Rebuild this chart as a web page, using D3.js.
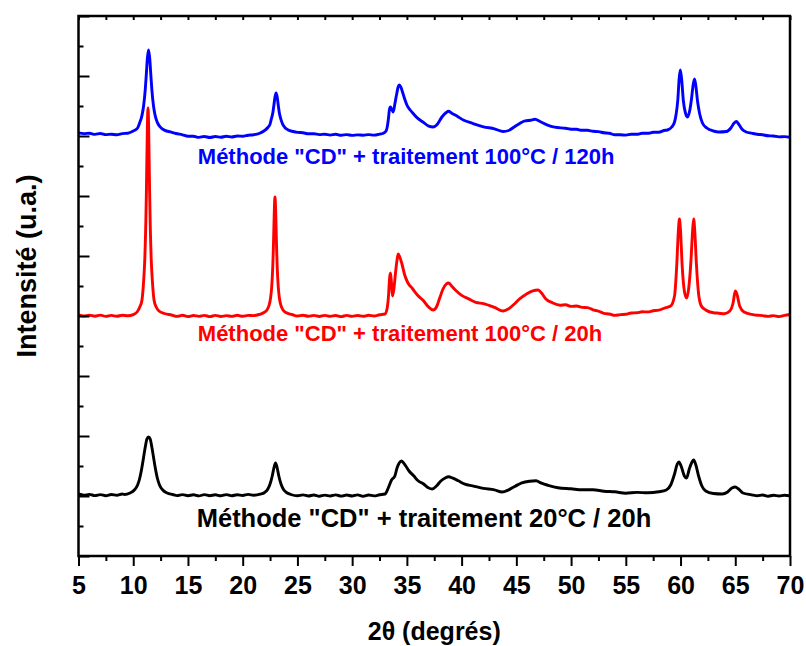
<!DOCTYPE html>
<html><head><meta charset="utf-8">
<script src="https://cdn.jsdelivr.net/npm/d3@7/dist/d3.min.js"></script>
<style>
body{margin:0;background:#fff}
svg{display:block}
text{font-family:"Liberation Sans",Arial,sans-serif;font-weight:bold}
</style>
</head><body>
<svg id="chart" width="806" height="646"></svg>
<script>
// ---------- data ----------
const xTickValues = [5,10,15,20,25,30,35,40,45,50,55,60,65,70];
const xMinorTickValues = [7.5,12.5,17.5,22.5,27.5,32.5,37.5,42.5,47.5,52.5,57.5,62.5,67.5];
const yTickValues = [0,600,1200,1800,2400,3000,3600,4200,4800,5400];
const yMinorTickValues = [300,900,1500,2100,2700,3300,3900,4500,5100];

const seriesLabels = ['Méthode "CD" + traitement 20°C / 20h','Méthode "CD" + traitement 100°C / 20h','Méthode "CD" + traitement 100°C / 120h'];
const seriesColors = ['#000000','#ff0000','#0000ff'];
const seriesOffsets = [0,1800,3600];

// [2theta, intensity (a.u.)]
const black20C20h = [
[5,620],[5.5,608],[6,616],[6.5,604],[7,614],[7.5,603],[8,615],[8.5,608],[9,620],[9.2,615],[9.7,630],[10.1,660],[10.4,710],[10.6,780],[10.8,890],[10.95,990],[11.1,1090],[11.25,1170],[11.4,1190],[11.55,1170],[11.7,1090],[11.85,990],[12.0,890],[12.2,780],[12.4,710],[12.7,660],[13.1,630],[13.6,615],
[14,604],[14.5,614],[15,603],[15.5,612],[16,601],[16.5,614],[17,603],[17.5,612],[18,602],[18.5,614],[19,602],[19.5,613],[20,605],[20.5,616],[21,608],
[21.6,618],[22.0,635],[22.3,670],[22.5,720],[22.7,800],[22.85,880],[23.0,930],[23.15,880],[23.3,800],[23.5,720],[23.7,670],[24.0,635],[24.4,615],
[25,602],[25.5,611],[26,600],[26.5,610],[27,598],[27.5,609],[28,600],[28.5,611],[29,599],[29.5,610],[30,600],[30.5,611],[31,598],[31.5,610],[32,601],
[32.5,612],[33.0,620],[33.3,680],[33.6,760],[33.9,800],[34.1,880],[34.3,930],[34.5,950],[34.7,930],[34.9,900],[35.2,850],[35.6,805],[36.0,755],[36.5,722],[37.0,680],[37.3,670],[37.7,700],[38.1,750],[38.5,780],[38.8,792],[39.2,778],[39.7,752],[40.3,718],[41,702],[42,676],[43,662],[43.7,640],[44.3,662],[44.9,698],[45.5,732],[46.2,748],[46.8,752],[47.3,728],[47.9,707],[48.8,683],[50,672],[51,662],[52,662],[53,648],[54,642],[55,628],[56,636],[57,632],[58,642],
[58.7,660],[59.1,710],[59.45,820],[59.7,920],[59.85,940],[60.05,900],[60.35,800],[60.55,780],[60.8,870],[61.05,940],[61.2,960],[61.4,910],[61.65,800],[61.95,700],[62.3,650],[63,625],[63.8,620],[64.3,640],[64.7,680],[65.0,690],[65.3,670],[65.7,630],[66.5,612],[67,602],[67.5,610],[68,598],[68.5,607],[69,600],[69.5,608],[70,603]
];

const red100C20h = [
[5,612],[5.5,600],[6,608],[6.5,598],[7,609],[7.5,596],[8,606],[8.5,597],[9,608],[9.5,602],[10.0,614],[10.35,640],[10.6,690],[10.8,760],[10.95,950],[11.05,1150],[11.15,1531],[11.2,1828],[11.25,2189],[11.3,2531],[11.35,2680],[11.4,2531],[11.45,2189],[11.5,1828],[11.55,1531],[11.65,1150],[11.75,950],[11.9,760],[12.1,690],[12.35,650],[12.85,625],[13.5,610],
[14,596],[14.5,607],[15,594],[15.5,605],[16,596],[16.5,606],[17,594],[17.5,606],[18,595],[18.5,604],[19,596],[19.5,607],[20,597],[20.5,606],[21,604],
[21.5,615],[21.95,635],[22.2,658],[22.4,704],[22.55,782],[22.65,890],[22.75,1100],[22.8,1269],[22.85,1484],[22.9,1695],[22.95,1790],[23.0,1695],[23.05,1484],[23.1,1269],[23.15,1100],[23.25,890],[23.35,782],[23.5,704],[23.7,658],[23.95,635],[24.5,615],
[25,600],[25.5,608],[26,597],[26.5,606],[27,595],[27.5,606],[28,596],[28.5,605],[29,594],[29.5,606],[30,596],[30.5,605],[31,597],[31.5,607],[32,600],
[32.5,612],[33.0,620],[33.2,680],[33.32,800],[33.42,980],[33.5,1030],[33.58,950],[33.68,800],[33.8,860],[33.95,1020],[34.1,1160],[34.2,1220],[34.35,1190],[34.55,1120],[34.8,1010],[35.1,930],[35.5,875],[36.0,805],[36.5,755],[37.0,688],[37.4,660],[37.7,690],[38.0,780],[38.3,870],[38.6,920],[38.8,930],[39.1,898],[39.5,852],[40.0,806],[40.6,774],[41.3,736],[42,724],[43,686],[43.8,650],[44.3,672],[44.8,718],[45.3,772],[45.9,818],[46.5,852],[47.0,860],[47.3,830],[47.7,770],[48.3,732],
[49,708],[49.5,712],[50,696],[50.5,700],[51,686],[51.5,684],[52,662],[52.5,648],[53,627],[53.5,620],[54,606],[54.5,614],[55,617],[55.5,630],[56,632],[56.5,642],[57,641],[57.5,652],[58,658],[58.6,682],
[59.1,700],[59.45,800],[59.65,1100],[59.8,1450],[59.9,1570],[60.0,1450],[60.15,1100],[60.35,850],[60.55,780],[60.75,880],[60.95,1150],[61.1,1450],[61.2,1570],[61.3,1450],[61.45,1120],[61.65,820],[61.9,700],[62.3,660],[63,632],[63.5,628],[64,622],[64.5,650],[64.8,730],[65.0,850],[65.15,820],[65.4,700],[65.8,640],[66.5,616],[67,608],[67.5,604],[68,596],[68.5,604],[69,594],[69.5,606],[70,615]
];

const blue100C120h = [
[5,632],[5.5,624],[6,628],[6.5,616],[7,625],[7.5,614],[8,618],[8.5,613],[9,624],[9.5,628],[10.0,650],[10.4,680],[10.6,736],[10.8,806],[10.95,902],[11.1,1067],[11.2,1224],[11.3,1385],[11.4,1460],[11.5,1385],[11.6,1224],[11.7,1067],[11.85,902],[12.0,806],[12.2,736],[12.5,686],[12.9,656],[13.4,641],
[13.9,625],[14.5,612],[15,597],[15.5,598],[16,586],[16.5,595],[17,585],[17.5,595],[18,587],[18.5,598],[19,590],[19.5,600],[20,597],[20.5,608],[21,613],
[21.5,625],[22.0,655],[22.3,685],[22.5,719],[22.6,764],[22.75,830],[22.85,907],[22.95,990],[23.05,1030],[23.15,990],[23.25,907],[23.35,830],[23.5,764],[23.65,719],[23.85,685],[24.15,661],[24.6,645],
[25,636],[25.5,633],[26,622],[26.5,623],[27,614],[27.5,618],[28,609],[28.5,617],[29,607],[29.5,614],[30,606],[30.5,611],[31,608],[31.5,614],[32,609],[32.5,618],[32.8,625],
[33.1,650],[33.3,760],[33.4,860],[33.5,890],[33.6,870],[33.75,840],[33.9,920],[34.05,1010],[34.2,1090],[34.3,1110],[34.45,1090],[34.6,1040],[34.8,970],[35.0,910],[35.3,860],[35.6,822],[36.0,776],[36.5,738],[37.0,698],[37.4,690],[37.8,720],[38.2,790],[38.6,835],[38.8,848],[39.1,828],[39.6,797],[40.2,757],[41,727],[42,692],[43,672],[43.8,645],[44.3,655],[44.8,690],[45.3,725],[45.8,752],[46.3,758],[46.7,767],[47.2,743],[47.8,712],[48.5,688],
[49.5,677],[50,668],[50.5,667],[51,657],[51.5,657],[52,647],[52.5,644],[53,632],[53.5,627],[54,612],[54.5,612],[55,609],[55.5,617],[56,617],[56.5,627],[57,627],[57.5,637],[58,638],[58.5,655],
[58.8,660],[59.2,690],[59.45,740],[59.6,820],[59.75,960],[59.88,1180],[59.98,1260],[60.1,1170],[60.25,960],[60.45,830],[60.65,790],[60.85,860],[61.0,970],[61.15,1110],[61.28,1170],[61.4,1100],[61.55,950],[61.75,820],[62.0,730],[62.4,680],[63,650],[63.5,640],[64.2,645],[64.6,680],[64.9,730],[65.1,745],[65.3,720],[65.6,670],[66,640],[66.5,628],[67,617],[67.5,612],[68,602],[68.5,600],[69,591],[69.5,594],[70,588]
];

const seriesData = [black20C20h, red100C20h, blue100C120h];

// ---------- drawing ----------
const svg = d3.select('#chart');
const L = 78.5, R = 790, T = 16, B = 556;
const x = d3.scaleLinear().domain([5,70]).range([L,R]);
const y = d3.scaleLinear().domain([0,5400]).range([B,T]);

// series
const line = d3.line().curve(d3.curveMonotoneX);
seriesData.forEach((data,i)=>{
  svg.append('path')
    .attr('d', line.x(d=>x(d[0])).y(d=>y(d[1]+seriesOffsets[i]))(data))
    .attr('fill','none')
    .attr('stroke',seriesColors[i])
    .attr('stroke-width',2.9)
    .attr('stroke-linejoin','round');
});

// axes
function styleAxis(g){
  g.select('.domain').remove();
  g.selectAll('.tick line').attr('stroke','#000').attr('stroke-width',2);
}
svg.append('g').attr('transform',`translate(0,${B})`)
  .call(d3.axisBottom(x).tickValues(xMinorTickValues).tickSize(5).tickFormat(''))
  .call(styleAxis);
const xa = svg.append('g').attr('transform',`translate(0,${B})`)
  .call(d3.axisBottom(x).tickValues(xTickValues).tickSize(10).tickPadding(10).tickFormat(d3.format('d')))
  .call(styleAxis);
xa.selectAll('text').attr('fill','#000').style('font-size','25px').style('font-family','"Liberation Sans",Arial,sans-serif').style('font-weight','bold');

svg.append('g').attr('transform',`translate(0,${T})`)
  .call(d3.axisTop(x).tickValues(xTickValues.concat(xMinorTickValues)).tickSize(-4).tickFormat(''))
  .call(styleAxis);

svg.append('g').attr('transform',`translate(${L},0)`)
  .call(d3.axisRight(y).tickValues(yTickValues).tickSize(11).tickFormat(''))
  .call(styleAxis);
svg.append('g').attr('transform',`translate(${L},0)`)
  .call(d3.axisRight(y).tickValues(yMinorTickValues).tickSize(5).tickFormat(''))
  .call(styleAxis);

// frame
svg.append('rect').attr('x',L).attr('y',T).attr('width',R-L).attr('height',B-T)
  .attr('fill','none').attr('stroke','#000').attr('stroke-width',2.5);

// series labels
const labelPos = [{tx:15.8, ty:290, size:25.5},{tx:15.9, ty:2150, size:22},{tx:15.9, ty:3920, size:22}];
seriesLabels.forEach((t,i)=>{
  svg.append('text').attr('x',x(labelPos[i].tx)).attr('y',y(labelPos[i].ty))
    .attr('fill',seriesColors[i]).style('font-size',labelPos[i].size+'px').text(t);
});

// axis titles
svg.append('text').attr('x',(L+R)/2).attr('y',640).attr('text-anchor','middle')
  .style('font-size','25px').text('2θ (degrés)');
svg.append('text').attr('transform','translate(36,266) rotate(-90)').attr('text-anchor','middle')
  .style('font-size','27px').text('Intensité (u.a.)');
</script>
</body></html>
